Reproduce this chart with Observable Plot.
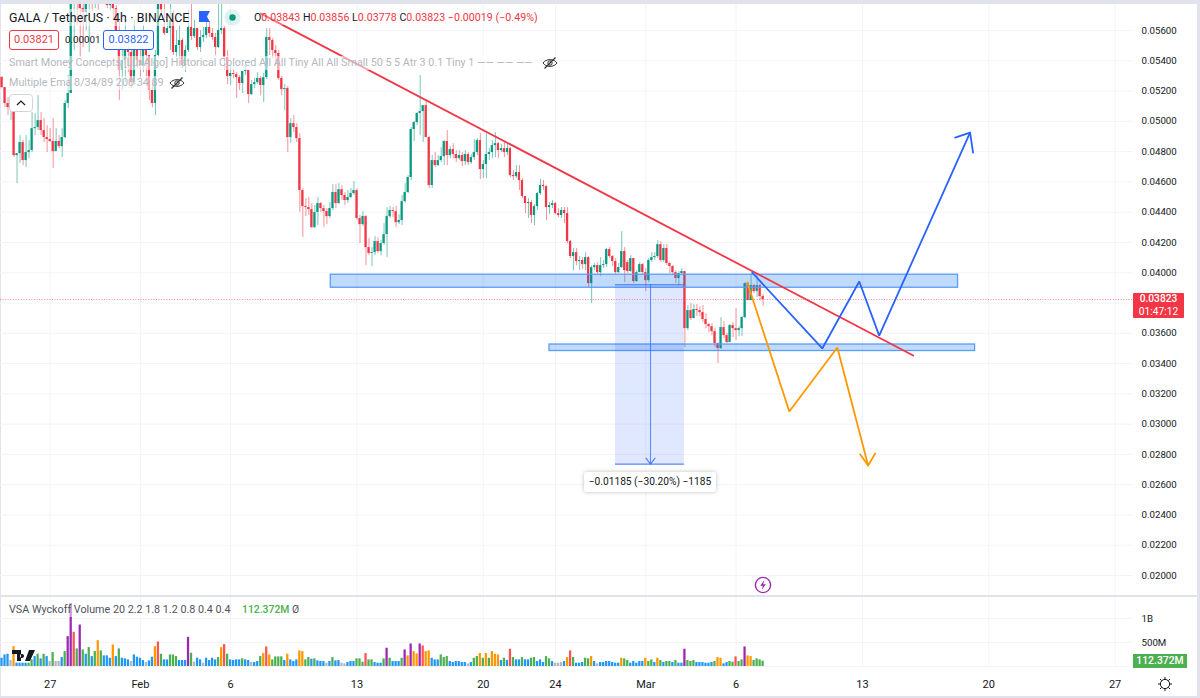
<!DOCTYPE html>
<html><head><meta charset="utf-8">
<script src="https://cdn.jsdelivr.net/npm/d3@7"></script>
<script src="https://cdn.jsdelivr.net/npm/@observablehq/plot@0.6"></script>
<style>
html,body{margin:0;padding:0;background:#e0e3eb;}
body{width:1200px;height:698px;position:relative;overflow:hidden;font-family:Roboto,"Open Sans",sans-serif;color:#131722;}
.pane{position:absolute;background:#fff;}
.abs{position:absolute;white-space:nowrap;}
#price,#volume{position:absolute;left:0;}
#price{top:0}#volume{top:597px}
svg{display:block}
.row{background:rgba(255,255,255,.55);color:#b4b7c0;font-size:10.75px;line-height:14px;padding:0 1px;}
.badge{border-radius:3px;text-align:center;font-size:11px;line-height:18px;height:18px;background:#fff;}
</style></head>
<body>
<div class="pane" style="left:1px;top:4px;width:1196px;height:591px"></div>
<div class="pane" style="left:1px;top:597px;width:1196px;height:99px"></div>
<div id="price"></div>
<div id="volume"></div>
<script>
// Candles, prices in units of 0.00001 USDT, one 4-hour bar each starting 24 Jan 2023 08:00 UTC
const priceUnit = 1e-5;
const firstBarTime = "2023-01-24T08:00:00Z";
const closes = [5223,5118,5091,5118,4774,4787,4860,4741,4794,4807,4952,4959,5005,4939,4893,4880,4867,4800,4867,4833,4893,5118,5184,5864,5930,5864,5745,5719,5798,5831,5785,5831,5811,5864,5838,5765,5785,5745,5600,5336,5402,5501,5455,5256,5468,5402,5369,5501,5435,5204,5118,5435,5831,5732,5580,5613,5666,5455,5501,5534,5369,5468,5620,5560,5613,5488,5554,5567,5620,5580,5554,5488,5600,5613,5422,5296,5316,5309,5289,5250,5329,5336,5177,5243,5256,5283,5237,5289,5554,5534,5468,5448,5283,5210,5217,4893,4985,4959,4886,4543,4437,4431,4417,4298,4398,4457,4424,4404,4371,4424,4530,4457,4549,4510,4477,4497,4523,4543,4358,4318,4371,4166,4127,4133,4206,4140,4193,4252,4371,4411,4404,4331,4345,4470,4530,4629,4946,4992,5052,5065,5104,4893,4576,4741,4708,4741,4767,4867,4774,4814,4781,4754,4774,4734,4781,4728,4761,4794,4873,4682,4715,4781,4794,4840,4853,4807,4820,4794,4820,4642,4635,4662,4609,4503,4457,4464,4378,4437,4523,4576,4569,4431,4444,4457,4391,4378,4411,4391,4206,4107,4133,4074,4081,4054,4100,3928,4034,4047,4001,4047,4054,4153,4107,4074,4001,4034,4140,4014,4008,4094,3942,4001,4054,4001,3948,4081,4100,4107,4186,4081,4160,4061,4041,4001,3962,3995,4008,3631,3750,3697,3757,3750,3737,3691,3658,3644,3611,3532,3499,3638,3585,3539,3651,3631,3618,3631,3704,3928,3816,3915,3876,3915,3843,3823];
const highs = [5296,5223,5157,5138,5118,4787,4906,4873,4906,4873,5058,5052,5170,5058,5018,4972,4952,5018,4952,4906,4952,5138,5303,5996,6062,5930,5930,5864,5864,5897,5864,5897,5864,5930,5930,5864,5831,5831,5765,5666,5600,5666,5567,5534,5666,5600,5481,5633,5600,5435,5270,5468,5930,5897,5831,5666,5864,5732,5600,5633,5547,5501,5732,5772,5666,5600,5600,5620,5679,5653,5613,5580,5772,5831,5626,5468,5369,5349,5322,5303,5329,5369,5329,5270,5283,5322,5296,5316,5613,5613,5547,5501,5468,5296,5243,5230,5018,5038,4985,4919,4556,4490,4497,4457,4444,4497,4464,4444,4424,4464,4582,4582,4589,4576,4530,4543,4556,4602,4556,4378,4404,4378,4226,4166,4239,4232,4213,4325,4431,4437,4431,4437,4384,4510,4589,4642,4959,4999,5058,5303,5104,5138,4900,4774,4794,4774,4827,4873,4939,4834,4853,4807,4807,4794,4807,4794,4781,4880,4886,4919,4741,4919,4820,4873,4926,4860,4847,4867,4847,4827,4675,4708,4708,4622,4503,4490,4477,4450,4530,4616,4609,4576,4464,4477,4464,4424,4431,4431,4431,4213,4160,4160,4107,4100,4133,4107,4047,4061,4067,4100,4081,4160,4166,4113,4094,4061,4272,4166,4081,4113,4094,4014,4067,4061,4028,4094,4133,4133,4213,4206,4186,4186,4067,4047,4014,4008,4028,4008,3783,3796,3790,3790,3777,3783,3730,3664,3664,3631,3539,3704,3677,3598,3658,3671,3763,3644,3711,3935,3935,3995,3922,3995,3922,3856];
const lows = [5217,5091,5038,5005,4761,4589,4721,4708,4695,4754,4794,4906,4939,4906,4860,4794,4860,4688,4807,4820,4761,4886,5085,5184,5468,5633,5422,5488,5600,5455,5719,5745,5732,5785,5798,5745,5732,5666,5468,5138,5204,5256,5322,5217,5237,5349,5283,5322,5270,5138,5091,5038,5422,5699,5567,5580,5468,5435,5422,5415,5349,5322,5455,5534,5547,5468,5455,5521,5547,5554,5534,5435,5481,5573,5336,5243,5237,5283,5151,5204,5184,5303,5118,5170,5217,5243,5170,5124,5276,5435,5415,5369,5270,5170,5071,4794,4853,4926,4860,4398,4232,4371,4378,4292,4292,4312,4398,4298,4318,4358,4411,4424,4450,4477,4444,4457,4490,4510,4345,4193,4305,4047,4113,4041,4113,4127,4113,4180,4100,4358,4365,4298,4318,4312,4457,4523,4609,4867,4972,4906,4860,4893,4556,4556,4695,4701,4728,4708,4708,4754,4754,4728,4741,4701,4708,4708,4715,4741,4774,4616,4622,4622,4741,4754,4761,4754,4794,4761,4774,4629,4609,4622,4543,4490,4391,4358,4325,4312,4411,4510,4543,4345,4384,4424,4384,4365,4358,4325,4193,4094,4014,4047,4014,4021,4014,3902,3796,4014,3988,3975,4028,4034,4094,4041,3988,3995,4028,3935,3995,4001,3928,3935,4001,3988,3876,3935,4067,4081,4094,4067,4067,4047,3995,3981,3928,3915,3981,3506,3618,3684,3697,3711,3711,3671,3631,3605,3585,3506,3400,3493,3565,3532,3572,3572,3552,3578,3578,3697,3816,3816,3862,3836,3816,3778];
// Opens follow the previous close, apart from these bars
const openExceptions = {0:5290, 54:5620, 208:4067};
const volumesM = [172,241,255,124,414,69,69,69,69,69,138,207,255,159,255,207,104,290,104,104,186,310,621,1311,711,366,863,345,255,393,207,310,538,324,221,221,172,449,207,366,172,159,138,104,241,193,172,124,83,117,193,414,511,255,138,138,241,241,207,124,124,124,607,276,90,172,138,69,172,124,172,138,186,393,455,255,138,124,138,138,159,138,124,83,83,104,207,269,407,241,138,200,200,200,124,255,138,104,138,324,310,138,186,152,159,117,104,104,69,104,186,117,124,69,55,83,104,104,159,159,90,269,138,138,83,69,69,159,380,172,104,104,104,172,345,221,469,310,262,469,428,310,324,172,138,138,241,186,207,104,83,104,104,83,83,55,83,172,207,269,172,269,172,310,255,241,124,172,124,359,186,138,138,186,138,138,172,186,104,138,83,207,159,104,69,69,83,104,186,324,186,69,69,83,172,159,207,104,55,83,83,104,104,83,69,69,172,159,124,69,104,69,104,104,172,104,138,83,172,124,83,104,104,83,124,69,69,359,124,104,124,83,83,83,69,69,83,104,186,172,55,83,104,90,200,104,138,407,221,207,124,159,138,112.372];
const volumeClasses = "bbbgobbbbGGbGbGbgGggbGpprGpGbGbGoGbbbobGbbbgbbbbgbborGbbGGGbbbpGgbbgbbbbGorGbbbbGbbgbbGoroGGGGbobbbooGGbGbbbgbGbbggbbbGGGrGGbbbGpGbbbGpopooproobbbGGGbbbbbbgbGGoGoGooobGbrGbbGbbGGbbbGGbgggborGbbbGGobgbbbbbbboGGbbbbboGGboGbGGbGbbpGGGbbbbbbGoobbGGrGGpooGGGG";
const volumeClassNames = ["b","g","G","o","r","p"];
const volumeClassColors = ["#2196f3","#b2b5be","#4caf50","#ff9800","#ff5252","#9c27b0"];
const upColor = "#089981", downColor = "#f23645";

const priceTicks = [0.056,0.054,0.052,0.05,0.048,0.046,0.044,0.042,0.04,0.038,0.036,0.034,0.032,0.03,0.028,0.026,0.024,0.022,0.02];
const priceTickHiddenByBadge = 0.038;
const timeTicks = ["2023-01-27","2023-02-01","2023-02-06","2023-02-13","2023-02-20","2023-02-24","2023-03-01","2023-03-06","2023-03-13","2023-03-20","2023-03-27"];
const timeTickLabels = ["27","Feb","6","13","20","24","Mar","6","13","20","27"];
const volumeTicks = [5e8,1e9];
const volumeTickLabels = ["500M","1B"];
const lastPrice = 0.03823;

// Drawn objects on the chart: [time, price]
const trendLine = [["2023-02-07T16:20Z",0.05712],["2023-03-15T19:30Z",0.03453]];
const blueZigzag = [["2023-03-06T21:40Z",0.04],["2023-03-10T18:40Z",0.035],["2023-03-12T19:50Z",0.03942],["2023-03-13T22:20Z",0.03585],["2023-03-18T23:10Z",0.04926]];
const blueHead = [["2023-03-18T03:20Z",0.04893],["2023-03-18T23:10Z",0.04926],["2023-03-19T03:10Z",0.04794]];
const orangeZigzag = [["2023-03-06T15:00Z",0.03935],["2023-03-08T22:50Z",0.03083],["2023-03-11T14:40Z",0.03506],["2023-03-13T07:40Z",0.02727]];
const orangeHead = [["2023-03-12T21:10Z",0.02799],["2023-03-13T07:40Z",0.02727],["2023-03-13T17:00Z",0.02806]];
const zones = [
  {t1:"2023-02-11T13:10Z",t2:"2023-03-18T07:12Z",p1:0.03987,p2:0.03901},
  {t1:"2023-02-23T16:00Z",t2:"2023-03-19T05:50Z",p1:0.03526,p2:0.03483}
];
const measure = {t1:"2023-02-27T07:40Z",t2:"2023-03-03T03:20Z",tm:"2023-03-01T06:15Z",p1:0.03921,p2:0.02736};
const measureHead = [["2023-03-01T00:15Z",0.02775],["2023-03-01T06:15Z",0.02736],["2023-03-01T12:15Z",0.02775]];

const bars = closes.map((c,i)=>{
  const open = openExceptions[i] ?? closes[i-1];
  const t = +new Date(firstBarTime) + i*4*3600e3;
  return {t:new Date(t), t1:new Date(t-90*60e3), t2:new Date(t+90*60e3),
    o:open*priceUnit, c:c*priceUnit, h:highs[i]*priceUnit, l:lows[i]*priceUnit,
    up:c>=open, v:volumesM[i]*1e6, cls:volumeClasses[i]};
});
const pts = a => a.map(([t,p])=>({t:new Date(t),p}));
const xOpts = {type:"utc",domain:[new Date("2023-01-24T06:00Z"),new Date("2023-03-28T00:28Z")],range:[0,1133],axis:null};
const baseStyle = {background:"transparent",fontFamily:"Roboto,sans-serif",fontSize:"9.7px",color:"#131722"};
const gridColor = "#f2f4fa";
const tickDates = timeTicks.map(d=>new Date(d+"T00:00Z"));

const pricePlot = Plot.plot({
  width:1200,height:595,marginTop:4,marginBottom:0,marginLeft:0,marginRight:67,
  style:baseStyle,
  x:xOpts,
  y:{domain:[0.01868,0.05772],range:[595,4],axis:null},
  marks:[
    Plot.ruleX(tickDates,{stroke:gridColor,strokeWidth:1}),
    Plot.ruleY(priceTicks,{stroke:gridColor,strokeWidth:1}),
    Plot.axisY({anchor:"right",ticks:priceTicks.filter(d=>d!==priceTickHiddenByBadge),tickSize:0,tickPadding:8,tickFormat:d3.format(".5f"),label:null}),
    Plot.ruleY([lastPrice],{stroke:"#f23645",strokeDasharray:"1,1.6",strokeWidth:1,strokeOpacity:.6}),
    Plot.ruleX(bars,{x:"t",y1:"l",y2:"h",stroke:d=>d.up?upColor:downColor,strokeWidth:1,strokeOpacity:.55,clip:true}),
    Plot.rect(bars,{x1:"t1",x2:"t2",y1:"o",y2:"c",fill:d=>d.up?upColor:downColor,clip:true}),
    Plot.rect(zones,{x1:d=>new Date(d.t1),x2:d=>new Date(d.t2),y1:"p1",y2:"p2",fill:"#1e7be8",fillOpacity:.28,stroke:"#5b9cf6",strokeWidth:1.3}),
    Plot.rect([measure],{x1:d=>new Date(d.t1),x2:d=>new Date(d.t2),y1:"p1",y2:"p2",fill:"#2962ff",fillOpacity:.15}),
    Plot.ruleY([measure],{x1:d=>new Date(d.t1),x2:d=>new Date(d.t2),y:"p1",stroke:"#2962ff",strokeWidth:1.1,strokeOpacity:.8}),
    Plot.ruleY([measure],{x1:d=>new Date(d.t1),x2:d=>new Date(d.t2),y:"p2",stroke:"#2962ff",strokeWidth:1.1,strokeOpacity:.8}),
    Plot.ruleX([measure],{x:d=>new Date(d.tm),y1:"p1",y2:"p2",stroke:"#2962ff",strokeWidth:1.1,strokeOpacity:.7}),
    Plot.line(pts(measureHead),{x:"t",y:"p",stroke:"#2962ff",strokeWidth:1.1,strokeOpacity:.8}),
    Plot.line(pts(trendLine),{x:"t",y:"p",stroke:"#f23645",strokeWidth:1.8,clip:true}),
    Plot.line(pts(blueZigzag),{x:"t",y:"p",stroke:"#2962ff",strokeWidth:1.8,curve:"linear",strokeLinejoin:"miter"}),
    Plot.line(pts(blueHead),{x:"t",y:"p",stroke:"#2962ff",strokeWidth:1.8}),
    Plot.line(pts(orangeZigzag),{x:"t",y:"p",stroke:"#ff9800",strokeWidth:1.8,strokeLinejoin:"miter"}),
    Plot.line(pts(orangeHead),{x:"t",y:"p",stroke:"#ff9800",strokeWidth:1.8})
  ]
});
document.getElementById("price").append(pricePlot);

const volumePlot = Plot.plot({
  width:1200,height:99,marginTop:0,marginBottom:30,marginLeft:0,marginRight:67,
  style:baseStyle,
  x:xOpts,
  y:{domain:[0,1437e6],range:[69,0],axis:null},
  color:{type:"categorical",domain:volumeClassNames,range:volumeClassColors},
  marks:[
    Plot.ruleX(tickDates,{stroke:gridColor,strokeWidth:1,y1:0,y2:1437e6}),
    Plot.ruleY([0,...volumeTicks],{stroke:gridColor,strokeWidth:1}),
    Plot.rect(bars,{x1:"t1",x2:"t2",y1:0,y2:"v",fill:"cls"}),
    Plot.axisY({anchor:"right",ticks:volumeTicks,tickSize:0,tickPadding:8,tickFormat:d=>volumeTickLabels[volumeTicks.indexOf(d)],label:null}),
    Plot.axisX({anchor:"bottom",ticks:tickDates,tickSize:0,tickPadding:14,tickFormat:d=>timeTickLabels[tickDates.findIndex(k=>+k===+d)],label:null,fontSize:11})
  ]
});
document.getElementById("volume").append(volumePlot);
</script>

<!-- Legend and chrome -->
<div class="abs" style="left:9px;top:9px;font-size:12.4px;line-height:17px;color:#131722;letter-spacing:.1px;background:rgba(255,255,255,.55)">GALA / TetherUS · 4h · BINANCE</div>
<svg class="abs" style="left:199px;top:11px" width="12" height="12"><path d="M0 0H11L8 5.5L11 11H0Z" fill="#2962ff"/></svg>
<svg class="abs" style="left:224px;top:9px" width="17" height="17"><circle cx="8.5" cy="8.5" r="8" fill="#089981" fill-opacity=".13"/><circle cx="8.5" cy="8.5" r="3.2" fill="#089981"/></svg>
<div class="abs" style="left:254px;top:10px;font-size:10.6px;line-height:15px;color:#131722;letter-spacing:.05px;background:rgba(255,255,255,.3)">O<span style="color:#f23645">0.03843</span> H<span style="color:#f23645">0.03856</span> L<span style="color:#f23645">0.03778</span> C<span style="color:#f23645">0.03823 −0.00019 (−0.49%)</span></div>
<div class="abs badge" style="left:9px;top:30px;width:48px;border:1px solid #f23645;color:#f23645">0.03821</div>
<div class="abs" style="left:65px;top:32px;font-size:9.8px;line-height:16px;color:#131722">0.00001</div>
<div class="abs badge" style="left:103px;top:30px;width:49px;border:1px solid #2962ff;color:#2962ff">0.03822</div>
<div class="abs row" style="left:8px;top:56px">Smart Money Concepts [LuxAlgo] Historical Colored All All Tiny All All Small 50 5 5 Atr 3 0.1 Tiny 1 —— —— ——</div>
<svg class="abs" style="left:542px;top:56px" width="16" height="14" fill="none" stroke="#333" stroke-width="1"><path d="M1 7C4 2.5 12 2.5 15 7C12 11.5 4 11.5 1 7Z"/><circle cx="8" cy="7" r="2.2"/><path d="M2.5 12.5L13.5 1.5" stroke-width="1.2"/></svg>
<div class="abs row" style="left:8px;top:76px">Multiple Ema 8/34/89 200 34 89</div>
<svg class="abs" style="left:169px;top:76px" width="16" height="14" fill="none" stroke="#333" stroke-width="1"><path d="M1 7C4 2.5 12 2.5 15 7C12 11.5 4 11.5 1 7Z"/><circle cx="8" cy="7" r="2.2"/><path d="M2.5 12.5L13.5 1.5" stroke-width="1.2"/></svg>
<svg class="abs" style="left:9px;top:94px" width="24" height="18"><rect x=".5" y=".5" width="23" height="17" rx="3" fill="#fff" stroke="#d1d4dc"/><path d="M8 11L12 7L16 11" fill="none" stroke="#131722" stroke-width="1.2"/></svg>

<!-- measure label -->
<div class="abs" style="left:584px;top:472px;width:132px;height:20px;background:#fff;border-radius:2px;box-shadow:0 0 4px rgba(0,0,0,.25);text-align:center;font-size:10.2px;line-height:20px;color:#131722">−0.01185 (−30.20%) −1185</div>

<!-- last price -->
<div class="abs" style="left:1133px;top:293px;width:51px;height:25px;background:#f23645;color:#fff;text-align:center;font-size:10.2px;line-height:12.5px;border-radius:1px"><b style="font-weight:500">0.03823</b><br>01:47:12</div>

<!-- bolt -->
<svg class="abs" style="left:754px;top:576px" width="18" height="18"><circle cx="9" cy="9" r="7.6" fill="#fff" stroke="#9c27b0" stroke-width="1.4"/><path d="M10.2 4.2L6.2 9.8H8.8L7.8 13.8L11.8 8.2H9.2Z" fill="#9c27b0"/></svg>

<!-- volume legend -->
<div class="abs" style="left:9px;top:603px;font-size:10.75px;line-height:14px;color:#50535e;background:rgba(255,255,255,.5)">VSA Wyckoff Volume 20 2.2 1.8 1.2 0.8 0.4 0.4</div>
<div class="abs" style="left:242px;top:603px;font-size:10.4px;line-height:14px;color:#4caf50;font-weight:500">112.372M</div>
<div class="abs" style="left:292px;top:603px;font-size:10.4px;line-height:14px;color:#50535e">Ø</div>

<!-- volume badge -->
<div class="abs" style="left:1133px;top:654px;width:54px;height:14px;background:#4caf50;color:#fff;text-align:center;font-size:10.4px;line-height:14px;font-weight:500">112.372M</div>

<!-- logo -->
<svg class="abs" style="left:11px;top:648px" width="26" height="16"><path d="M1 2H10V13H6V6H1ZM18 2L14 13H19L24 2Z M11 6a2 2 0 1 0 .01 0" fill="#131722"/></svg>

<!-- gear -->
<svg class="abs" style="left:1157px;top:676px" width="16" height="16" fill="none" stroke="#131722" stroke-width="1"><circle cx="8" cy="8" r="4.6"/><path d="M8 1v2.4M8 12.6V15M1 8h2.4M12.6 8H15M3 3l1.7 1.7M11.3 11.3L13 13M13 3l-1.7 1.7M4.7 11.3L3 13"/></svg>
</body></html>
